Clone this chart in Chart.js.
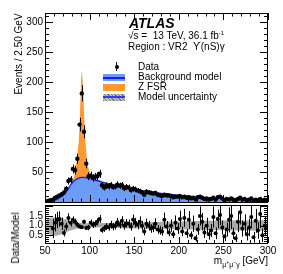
<!DOCTYPE html>
<html>
<head>
<meta charset="utf-8">
<script src="https://cdn.jsdelivr.net/npm/chart.js@4.4.1/dist/chart.umd.min.js"></script>
<style>
  body { margin: 0; background: #fff; width: 283px; height: 274px; overflow: hidden; position: relative;
         font-family: "Liberation Sans", Arial, sans-serif; }
  canvas { position: absolute; left: 0; }
  #mainChart { top: 0; }
  #ratioChart { top: 200px; }
  .t { position: absolute; white-space: pre; color: #000; font-size: 10px; line-height: 1; }
  .rot { transform: translate(-50%, -50%) rotate(-90deg); }
  .sup { position: relative; top: -4px; font-size: 6px; }
  .sub { position: relative; top: 3px; font-size: 7px; }
  .sw { position: absolute; width: 22px; height: 7px; }
</style>
</head>
<body>
<canvas id="mainChart" width="283" height="206"></canvas>
<canvas id="ratioChart" width="283" height="74"></canvas>

<div class="t" style="left:129px;top:16px;font-size:14px;font-weight:bold;font-style:italic">ATLAS</div>
<div class="t" style="left:128px;top:31px">√<span style="text-decoration:overline">s</span> =  13 TeV, 36.1 fb<span class="sup">-1</span></div>
<div class="t" style="left:128px;top:42px">Region : VR2  ϒ(nS)γ</div>

<div class="sw" style="left:116px;top:62px;width:1px;height:9px;background:#000"></div>
<div class="sw" style="left:114.5px;top:64.5px;width:4px;height:4px;border-radius:50%;background:#000"></div>
<div class="sw" style="left:103px;top:74px;background:linear-gradient(#6b9cf7 0 2.5px,#1a1aff 2.5px 4.5px,#6b9cf7 4.5px)"></div>
<div class="sw" style="left:103px;top:84px;background:#ff9a33"></div>
<div class="sw" style="left:103px;top:94px;background:linear-gradient(transparent 0 2.5px,#3a3aff 2.5px 4.5px,transparent 4.5px),repeating-linear-gradient(45deg,#777 0 1px,#c4c4c4 1px 2.5px)"></div>
<div class="t" style="left:138px;top:62px">Data</div>
<div class="t" style="left:138px;top:72px">Background model</div>
<div class="t" style="left:138px;top:82px">Z FSR</div>
<div class="t" style="left:138px;top:92px">Model uncertainty</div>

<div class="t rot" style="left:18.5px;top:54px">Events / 2.50 GeV</div>
<div class="t rot" style="left:16px;top:238px">Data/Model</div>
<div class="t" style="right:15px;top:255.5px">m<span class="sub">μ<span style="font-size:5px;position:relative;top:-3px">+</span>μ<span style="font-size:5px;position:relative;top:-3px">−</span>γ</span> [GeV]</div>

<script>
// binning: 100 bins of 2.5 GeV from 50 to 300
const binLow = 50, binWidth = 2.5, nBins = 100;

const dataCounts = [
  1, 2, 3, 4, 7, 9, 11, 13, 16, 22,
  35, 37, 55, 53, 72, 129, 181, 117, 64, 43,
  44, 40, 42, 43, 47, 28, 24, 27, 26, 28,
  25, 26, 29, 27, 28, 23, 25, 24, 20, 22,
  21, 19, 18, 16, 12, 17, 16, 15, 14, 15,
  12, 11, 10, 12, 11, 11, 10, 8, 9, 9,
  10, 8, 9, 7, 8, 6, 7, 4, 8, 9,
  7, 5, 6, 4, 5, 7, 4, 8, 9, 6,
  3, 5, 4, 6, 4, 3, 5, 7, 4, 5,
  3, 4, 6, 2, 4, 3, 5, 2, 4, 3
];
const dataErr = [
  1, 1.4, 1.7, 2, 2.6, 3, 3.3, 3.6, 4, 4.7,
  5.9, 6.1, 7.4, 7.3, 8.5, 11.4, 13.5, 10.8, 8, 6.6,
  6.6, 6.3, 6.5, 6.6, 6.9, 5.3, 4.9, 5.2, 5.1, 5.3,
  5, 5.1, 5.4, 5.2, 5.3, 4.8, 5, 4.9, 4.5, 4.7,
  4.6, 4.4, 4.2, 4, 3.5, 4.1, 4, 3.9, 3.7, 3.9,
  3.5, 3.3, 3.2, 3.5, 3.3, 3.3, 3.2, 2.8, 3, 3,
  3.2, 2.8, 3, 2.6, 2.8, 2.4, 2.6, 2, 2.8, 3,
  2.6, 2.2, 2.4, 2, 2.2, 2.6, 2, 2.8, 3, 2.4,
  1.7, 2.2, 2, 2.4, 2, 1.7, 2.2, 2.6, 2, 2.2,
  1.7, 2, 2.4, 1.4, 2, 1.7, 2.2, 1.4, 2, 1.7
];

const ratioVals = [
  null, null, null, 0.85, 1.15, 1.3, 1.35, 1.1, 0.62, 0.95,
  1.4, 1.15, 1.3, 1.2, 1.05, 0.95, 0.92, 1.2, 0.88, 0.9,
  1.15, 1.05, 1.1, 1.2, 1.35, 0.78, 0.85, 0.95, 0.92, 1.05,
  0.95, 1.0, 1.18, 1.05, 1.25, 1.0, 1.12, 1.1, 0.95, 1.3,
  1.15, 1.05, 1.2, 1.0, 0.7, 1.1, 1.0, 0.85, 0.9, 1.1,
  0.8, 0.75, 0.7, 1.3, 0.95, 0.65, 1.0, 0.55, 1.15, 0.85,
  1.35, 0.7, 1.4, 0.6, 1.3, 0.5, 1.1, 0.35, 0.8, 1.5,
  1.2, 0.65, 1.0, 0.55, 0.75, 1.45, 0.6, 1.35, 1.55, 0.9,
  0.45, 0.8, 1.3, 1.5, 0.6, 0.35, 1.2, 1.7, 0.85, 1.1,
  0.55, 0.9, 1.45, 0.4, 1.25, 0.75, 1.6, 0.5, 1.0, 0.9
];
const ratioErr = [
  0, 0, 0, 0.5, 0.45, 0.42, 0.4, 0.32, 0.18, 0.2,
  0.24, 0.19, 0.18, 0.16, 0.13, 0.09, 0.07, 0.11, 0.11, 0.14,
  0.17, 0.17, 0.17, 0.18, 0.2, 0.15, 0.17, 0.18, 0.18, 0.2,
  0.19, 0.2, 0.22, 0.2, 0.24, 0.21, 0.22, 0.22, 0.21, 0.28,
  0.25, 0.24, 0.28, 0.25, 0.2, 0.27, 0.25, 0.22, 0.24, 0.28,
  0.23, 0.22, 0.22, 0.38, 0.29, 0.2, 0.32, 0.2, 0.38, 0.28,
  0.43, 0.25, 0.47, 0.23, 0.46, 0.2, 0.42, 0.18, 0.28, 0.5,
  0.45, 0.29, 0.41, 0.28, 0.34, 0.55, 0.3, 0.48, 0.52, 0.37,
  0.26, 0.36, 0.65, 0.67, 0.3, 0.2, 0.54, 0.64, 0.42, 0.49,
  0.32, 0.45, 0.59, 0.28, 0.62, 0.43, 0.72, 0.35, 0.5, 0.52
];

// fitted model curves
const modelMass = [50, 55, 60, 65, 70, 75, 80,
  82.5, 85, 86.5, 88, 89, 90, 91, 92, 93, 94, 95,
  96.5, 98, 100, 105, 110,
  120, 130, 140, 150, 160, 170, 180, 190, 200, 210, 220, 230, 240, 250, 260, 270, 280, 290, 300];
const bkgModel = [0.3, 0.8, 2.5, 5.5, 11, 20, 31,
  35, 38, 39, 40, 40.5, 40.8, 41, 41, 41, 40.9, 40.7,
  40.3, 39.8, 39, 37, 35,
  31, 27.5, 24, 21, 18.5, 16.3, 14.3, 12.5, 11, 9.6, 8.4, 7.4, 6.5, 5.8, 5.1, 4.5, 4, 3.6, 3.2];
const zfsrModel = [0, 0, 0, 0.1, 0.3, 0.8, 2.5,
  6, 25, 42, 65, 100, 140, 176, 165, 140, 100, 70,
  40, 22, 12, 4, 1.5,
  0.5, 0.2, 0, 0, 0, 0, 0, 0, 0, 0, 0, 0, 0, 0, 0, 0, 0, 0, 0];

// model uncertainty in the ratio panel
const bandMass = [50, 55, 60, 65, 70, 75, 80, 85, 90, 95, 100, 110, 120, 140, 160, 180, 200, 220, 240, 260, 280, 300];
const bandHi = [1.25, 1.4, 1.44, 1.42, 1.36, 1.3, 1.23, 1.17, 1.14, 1.13, 1.13, 1.13, 1.14, 1.16, 1.18, 1.2, 1.22, 1.24, 1.25, 1.26, 1.27, 1.28];
const bandLo = [0.75, 0.55, 0.47, 0.5, 0.58, 0.68, 0.77, 0.83, 0.87, 0.89, 0.9, 0.9, 0.89, 0.87, 0.85, 0.83, 0.81, 0.79, 0.77, 0.75, 0.74, 0.73];

const binCenters = Array.from({ length: nBins }, (_, i) => binLow + binWidth * (i + 0.5));

Chart.defaults.font.family = "'Liberation Sans', Arial, sans-serif";
Chart.defaults.font.size = 10;
Chart.defaults.color = '#000';

// fixed axis width, no extra room for overhanging labels
const fixYAxis = s => { s.width = 45; s.paddingTop = 0; s.paddingBottom = 0; };

// ATLAS-style frame with inward ticks on all sides
const frameTicks = {
  id: 'frameTicks',
  afterDraw(chart, args, o) {
    const { ctx, chartArea: a, scales } = chart;
    const xs = scales.x, ys = scales.y;
    ctx.save();
    ctx.strokeStyle = '#000';
    ctx.lineWidth = 1;
    ctx.beginPath();
    for (let i = Math.ceil(xs.min / o.xMinor - 1e-6); i * o.xMinor <= xs.max + 1e-6; i++) {
      const v = i * o.xMinor;
      const major = Math.abs(v / o.xMajor - Math.round(v / o.xMajor)) < 1e-6;
      const px = Math.round(xs.getPixelForValue(v)) + 0.5;
      const len = major ? o.xLen : o.xLen / 2;
      if (o.bottom) { ctx.moveTo(px, a.bottom); ctx.lineTo(px, a.bottom - len); }
      if (o.top) { ctx.moveTo(px, a.top); ctx.lineTo(px, a.top + len); }
    }
    for (let i = Math.ceil(ys.min / o.yMinor - 1e-6); i * o.yMinor <= ys.max + 1e-6; i++) {
      const v = i * o.yMinor;
      const major = Math.abs(v / o.yMajor - Math.round(v / o.yMajor)) < 1e-6;
      const py = Math.round(ys.getPixelForValue(v)) + 0.5;
      const len = major ? o.yLen : o.yLen / 2;
      ctx.moveTo(a.left, py); ctx.lineTo(a.left + len, py);
      ctx.moveTo(a.right, py); ctx.lineTo(a.right - len, py);
    }
    ctx.stroke();
    ctx.strokeRect(a.left + 0.5, a.top + 0.5, a.right - a.left - 1, a.bottom - a.top);
    ctx.restore();
  }
};

// vertical error bars for datasets that carry an "errors" array
const errorBars = {
  id: 'errorBars',
  afterDatasetsDraw(chart) {
    const { ctx, chartArea: a } = chart;
    ctx.save();
    ctx.beginPath();
    ctx.rect(a.left, a.top, a.right - a.left, a.bottom - a.top);
    ctx.clip();
    ctx.strokeStyle = '#000';
    ctx.lineWidth = 1;
    chart.data.datasets.forEach((ds, i) => {
      if (!ds.errors) return;
      const meta = chart.getDatasetMeta(i);
      const ys = chart.scales[meta.yAxisID];
      meta.data.forEach((pt, j) => {
        const v = ds.data[j].y, e = ds.errors[j];
        if (v == null || !e) return;
        const px = Math.round(pt.x) + 0.5;
        ctx.beginPath();
        ctx.moveTo(px, ys.getPixelForValue(v - e));
        ctx.lineTo(px, ys.getPixelForValue(v + e));
        ctx.stroke();
      });
    });
    ctx.restore();
  }
};

const dataPts = binCenters.map((m, i) => ({ x: m, y: dataCounts[i] }));
const bkgPts = modelMass.map((m, i) => ({ x: m, y: bkgModel[i] }));
const totPts = modelMass.map((m, i) => ({ x: m, y: bkgModel[i] + zfsrModel[i] }));

new Chart(document.getElementById('mainChart'), {
  type: 'line',
  data: {
    datasets: [
      { label: 'Data', data: dataPts, errors: dataErr, showLine: false, pointRadius: 2.2,
        pointBackgroundColor: '#000', pointBorderWidth: 0, order: 0 },
      { label: 'Background model', data: bkgPts, borderColor: '#1a1aff', borderWidth: 1.3, pointRadius: 0,
        fill: 'origin', backgroundColor: '#6b9cf7', cubicInterpolationMode: 'monotone', order: 2 },
      { label: 'Z FSR', data: totPts, borderColor: '#ff9a33', borderWidth: 0, pointRadius: 0,
        fill: '-1', backgroundColor: '#ff9a33', cubicInterpolationMode: 'monotone', order: 3 }
    ]
  },
  options: {
    responsive: false, animation: false, devicePixelRatio: 1,
    layout: { padding: { left: 0, right: 15, top: 13, bottom: 1 } },
    plugins: {
      legend: { display: false }, tooltip: { enabled: false },
      frameTicks: { xMajor: 50, xMinor: 10, xLen: 7, yMajor: 50, yMinor: 10, yLen: 8, top: true, bottom: true }
    },
    scales: {
      x: { type: 'linear', min: 50, max: 300, display: false },
      y: {
        min: 0, max: 315,
        afterFit: fixYAxis,
        grid: { display: false, drawTicks: false }, border: { display: false },
        ticks: { stepSize: 50, padding: 2, autoSkip: false, includeBounds: false,
                 callback: v => (v > 0 && v % 50 === 0) ? v : null }
      }
    }
  },
  plugins: [frameTicks, errorBars]
});

const ratioPts = binCenters.map((m, i) => ({ x: m, y: ratioVals[i] }));
const hiPts = bandMass.map((m, i) => ({ x: m, y: bandHi[i] }));
const loPts = bandMass.map((m, i) => ({ x: m, y: bandLo[i] }));

new Chart(document.getElementById('ratioChart'), {
  type: 'line',
  data: {
    datasets: [
      { label: 'Data/Model', data: ratioPts, errors: ratioErr, showLine: false, pointRadius: 2,
        pointBackgroundColor: '#000', pointBorderWidth: 0, order: 0 },
      { label: 'unc hi', data: hiPts, borderWidth: 0, pointRadius: 0, fill: '+1',
        backgroundColor: '#a9a9a9', cubicInterpolationMode: 'monotone', order: 2 },
      { label: 'unc lo', data: loPts, borderWidth: 0, pointRadius: 0, fill: false,
        cubicInterpolationMode: 'monotone', order: 3 }
    ]
  },
  options: {
    responsive: false, animation: false, devicePixelRatio: 1,
    layout: { padding: { left: 0, right: 15, top: 5, bottom: 0 } },
    plugins: {
      legend: { display: false }, tooltip: { enabled: false },
      frameTicks: { xMajor: 50, xMinor: 10, xLen: 6, yMajor: 0.5, yMinor: 0.1, yLen: 8, top: false, bottom: true }
    },
    scales: {
      x: {
        type: 'linear', min: 50, max: 300,
        afterFit: s => { s.height = 31; },
        grid: { display: false, drawTicks: false }, border: { display: false },
        ticks: { stepSize: 50, padding: 2, maxRotation: 0, autoSkip: false,
                 callback: v => (v % 50 === 0) ? v : null }
      },
      y: {
        min: 0.1, max: 2.07,
        afterFit: fixYAxis,
        grid: { display: false, drawTicks: false }, border: { display: false },
        ticks: { stepSize: 0.5, padding: 2, autoSkip: false, includeBounds: false,
                 callback: v => [0.5, 1, 1.5].some(t => Math.abs(t - v) < 1e-6) ? v.toFixed(1) : null }
      }
    }
  },
  plugins: [frameTicks, errorBars]
});
</script>
</body>
</html>
